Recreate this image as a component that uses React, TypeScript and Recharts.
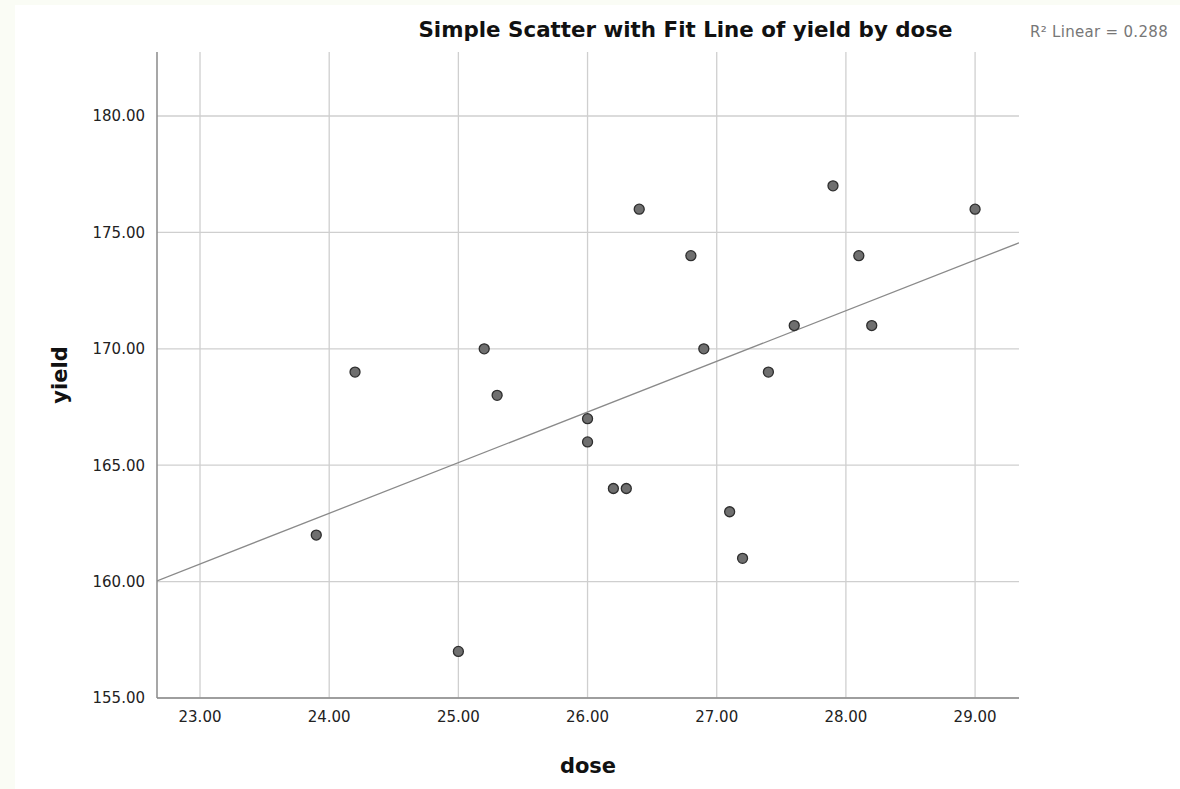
import React from 'react';
import {
  ScatterChart,
  Scatter,
  XAxis,
  YAxis,
  CartesianGrid,
  Label,
} from 'recharts';

const doseValues = [
  23.9, 24.2, 25.0, 25.2, 25.3, 26.0, 26.0, 26.2, 26.3, 26.4,
  26.8, 26.9, 27.1, 27.2, 27.4, 27.6, 27.9, 28.1, 28.2, 29.0,
];
const yieldValues = [
  162, 169, 157, 170, 168, 167, 166, 164, 164, 176,
  174, 170, 163, 161, 169, 171, 177, 174, 171, 176,
];
const xTicks = [23, 24, 25, 26, 27, 28, 29];
const yTicks = [155, 160, 165, 170, 175, 180];
const xDomain = [22.667, 29.34];
const yDomain = [155, 182.75];

const points = doseValues.map((d, i) => ({ dose: d, yield: yieldValues[i] }));

// least squares fit, drawn across the whole x range like SPSS does
const n = points.length;
const meanX = doseValues.reduce((a, b) => a + b, 0) / n;
const meanY = yieldValues.reduce((a, b) => a + b, 0) / n;
let sxy = 0;
let sxx = 0;
points.forEach((p) => {
  sxy += (p.dose - meanX) * (p.yield - meanY);
  sxx += (p.dose - meanX) * (p.dose - meanX);
});
const slope = sxy / sxx;
const fitLine = xDomain.map((x) => ({ dose: x, yield: meanY + slope * (x - meanX) }));

const FONT = '"DejaVu Sans", Verdana, sans-serif';

const Dot = (props: any) => {
  const { cx, cy } = props;
  return <circle cx={cx} cy={cy} r={5} fill="#6f6f6f" stroke="#2e2e2e" strokeWidth={1.3} />;
};

const App: React.FC = () => {
  return (
    <div style={{ position: 'absolute', top: 0, left: 0, width: 1180, height: 789, background: '#fafcf5', fontFamily: FONT }}>
      <div style={{ position: 'absolute', left: 15, top: 5, right: 0, bottom: 0, background: '#ffffff' }} />
      <div style={{ position: 'absolute', left: 0, top: 0 }}>
        <ScatterChart width={1180} height={789} margin={{ top: 52, right: 161, bottom: 0, left: 0 }}>
          <CartesianGrid stroke="#cfcfcf" strokeWidth={1.3} horizontalValues={yTicks} verticalValues={xTicks} />
          <XAxis
            type="number"
            dataKey="dose"
            domain={xDomain}
            ticks={xTicks}
            allowDataOverflow
            height={91}
            tickSize={0}
            tickMargin={13}
            tickFormatter={(v: number) => v.toFixed(2)}
            tick={{ fill: '#222', fontSize: 15, fontFamily: FONT }}
            axisLine={{ stroke: '#8a8a8a', strokeWidth: 1.5 }}
          >
            <Label value="dose" position="insideBottom" offset={16} style={{ fontSize: 21, fontWeight: 'bold', fill: '#111', fontFamily: FONT }} />
          </XAxis>
          <YAxis
            type="number"
            dataKey="yield"
            domain={yDomain}
            ticks={yTicks}
            allowDataOverflow
            width={157}
            tickSize={0}
            tickMargin={12}
            tickFormatter={(v: number) => v.toFixed(2)}
            tick={{ fill: '#222', fontSize: 15, fontFamily: FONT }}
            axisLine={{ stroke: '#8a8a8a', strokeWidth: 1.5 }}
          >
            <Label value="yield" angle={-90} position="insideLeft" offset={60} style={{ fontSize: 21, fontWeight: 'bold', fill: '#111', fontFamily: FONT, textAnchor: 'middle' }} />
          </YAxis>
          <Scatter
            data={fitLine}
            line={{ stroke: '#8a8a8a', strokeWidth: 1.3 }}
            shape={() => null}
            isAnimationActive={false}
          />
          <Scatter data={points} shape={<Dot />} isAnimationActive={false} />
        </ScatterChart>
      </div>
      <div style={{ position: 'absolute', left: 400, width: 571, top: 17, textAlign: 'center', fontSize: 21.4, fontWeight: 'bold', color: '#111', whiteSpace: 'nowrap' }}>
        Simple Scatter with Fit Line of yield by dose
      </div>
      <div style={{ position: 'absolute', left: 1030, top: 23, fontSize: 15, letterSpacing: 0.3, color: '#777', whiteSpace: 'nowrap' }}>
        R² Linear = 0.288
      </div>
    </div>
  );
};

export default App;
